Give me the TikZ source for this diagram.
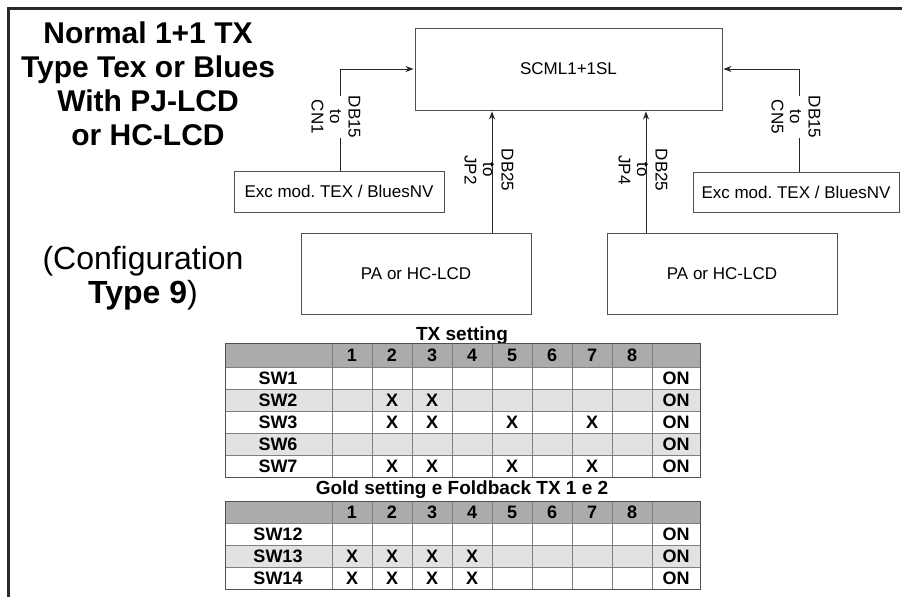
\documentclass[tikz,border=0pt]{standalone}
\usepackage{fontspec}
\setmainfont{Liberation Sans}
\usetikzlibrary{arrows.meta}
\definecolor{hdrgray}{HTML}{ABABAB}
\definecolor{altgray}{HTML}{E2E2E2}
\definecolor{gridgray}{HTML}{808080}
\definecolor{boxgray}{HTML}{505050}
\definecolor{framegray}{HTML}{2A2A2A}
\frenchspacing
\begin{document}
\begin{tikzpicture}[x=1pt,y=-1pt,
  box/.style={draw=boxgray, line width=0.9pt, rectangle, inner sep=0pt, font=\fontsize{17}{20}\selectfont},
  conn/.style={draw=black!85, line width=0.9pt, -{Stealth[length=8pt,width=6pt,inset=2.5pt]}, shorten >=1pt},
  lbl/.style={rotate=-90, align=center, inner sep=0pt, font=\fontsize{17}{18.5}\selectfont},
  cell/.style={inner sep=0pt, font=\bfseries\fontsize{18}{20}\selectfont},
  ttl/.style={inner sep=0pt, anchor=base, font=\bfseries\fontsize{19}{21}\selectfont},
  gridline/.style={draw=gridgray, line width=0.8pt},
  outer/.style={draw=boxgray, line width=1pt},
]
\useasboundingbox (0,0) rectangle (902,597);
% frame
\draw[draw=framegray, line width=2.6pt] (8.5,597) -- (8.5,8.5) -- (902,8.5);

% titles
\node[inner sep=0pt, anchor=north, align=center, font=\bfseries\fontsize{30}{34}\selectfont] (title) at (148,22)
  {Normal 1+1 TX\\Type Tex or Blues\\With PJ-LCD\\or HC-LCD};
\node[inner sep=0pt, anchor=north, align=center, font=\fontsize{32}{34}\selectfont] (config) at (143,246)
  {(Configuration\\\textbf{Type 9})};

% boxes
\node[box, minimum width=307pt, minimum height=82pt] (scml) at (568.5,69) {SCML1+1SL};
\node[box, minimum width=210pt, minimum height=41pt] (exc1) at (339,191.5) {Exc mod. TEX / BluesNV};
\node[box, minimum width=206pt, minimum height=40pt] (exc2) at (796,192) {Exc mod. TEX / BluesNV};
\node[box, minimum width=230pt, minimum height=81pt] (pa1) at (416,273.5) {PA or HC-LCD};
\node[box, minimum width=230pt, minimum height=81pt] (pa2) at (722,273.5) {PA or HC-LCD};

% connectors
\draw[conn] ([xshift=1pt]exc1.north) |- (scml.west);
\draw[conn] ([xshift=3pt]exc2.north) |- (scml.east);
\coordinate (jp2) at ([xshift=-76.5pt]scml.south);
\coordinate (jp4) at ([xshift=77.5pt]scml.south);
\draw[conn] (pa1.north -| jp2) -- (jp2);
\draw[conn] (pa2.north -| jp4) -- (jp4);

% connector labels
\node[lbl, fill=white] (l1) at (336,117) {DB15\\to\\CN1};
\node[lbl, fill=white] (l2) at (796,117) {DB15\\to\\CN5};
\node[lbl] (l3) at (489,170) {DB25\\to\\JP2};
\node[lbl] (l4) at (643,170) {DB25\\to\\JP4};

% ---------- Table 1 ----------
\node[ttl] (t1title) at (462,340) {TX setting};
\fill[hdrgray] (225,343) rectangle (700,367);
\fill[altgray] (225,389) rectangle (700,411);
\fill[altgray] (225,433) rectangle (700,455);
\foreach \y in {367,389,411,433,455} \draw[gridline] (225,\y) -- (700,\y);
\foreach \x in {332,372,...,652} \draw[gridline] (\x,343) -- (\x,477);
\draw[outer] (225,343) rectangle (700,477);
\foreach \i in {1,...,8} \node[cell] (t1h\i) at (352+40*\i-40,355) {\i};
\foreach \lab [count=\r] in {SW1,SW2,SW3,SW6,SW7} {
  \node[cell] (t1r\r) at (278,356+22*\r) {\lab};
  \node[cell] (t1on\r) at (676,356+22*\r) {ON};
}
\foreach \r/\c in {2/2,2/3,3/2,3/3,3/5,3/7,5/2,5/3,5/5,5/7}
  \node[cell] (t1x\r\c) at (352+40*\c-40,356+22*\r) {X};

% ---------- Table 2 ----------
\node[ttl] (t2title) at (462,494) {Gold setting e Foldback TX 1 e 2};
\fill[hdrgray] (225,501) rectangle (700,523);
\fill[altgray] (225,545) rectangle (700,567);
\foreach \y in {523,545,567} \draw[gridline] (225,\y) -- (700,\y);
\foreach \x in {332,372,...,652} \draw[gridline] (\x,501) -- (\x,589);
\draw[outer] (225,501) rectangle (700,589);
\foreach \i in {1,...,8} \node[cell] (t2h\i) at (352+40*\i-40,512) {\i};
\foreach \lab [count=\r] in {SW12,SW13,SW14} {
  \node[cell] (t2r\r) at (278,512+22*\r) {\lab};
  \node[cell] (t2on\r) at (676,512+22*\r) {ON};
}
\foreach \r/\c in {2/1,2/2,2/3,2/4,3/1,3/2,3/3,3/4}
  \node[cell] (t2x\r\c) at (352+40*\c-40,512+22*\r) {X};
\end{tikzpicture}
\end{document}
